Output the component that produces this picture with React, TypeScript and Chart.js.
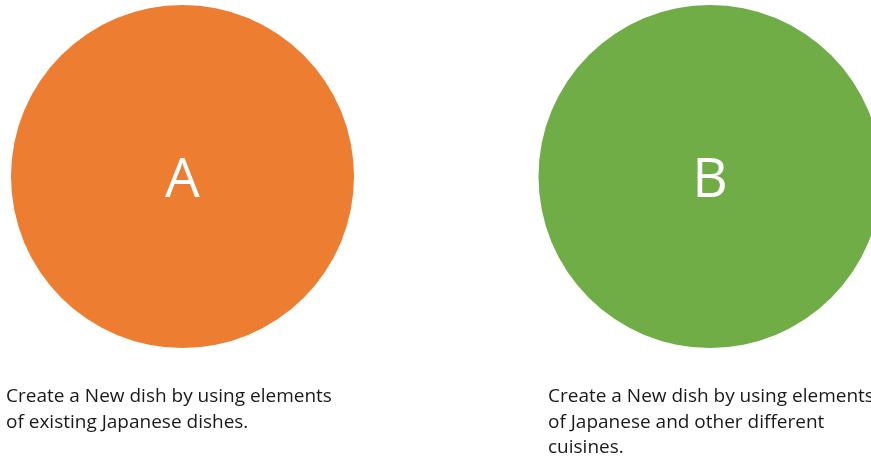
import React, { useEffect, useRef } from "react";
import { Chart, registerables } from "chart.js";

Chart.register(...registerables);

const labels = ["A", "B"];
const centerX = [182.5, 710];
const centerY = [176.5, 176.5];
const radius = [171.5, 171.5];
const colors = ["#ED7D31", "#70AD47"];
const captionX = [6, 548];
const captionY = [402, 402];
const captions = [
  ["Create a New dish by using elements", "of existing Japanese dishes."],
  ["Create a New dish by using elements", "of Japanese and other different", "cuisines."],
];

const W = 871;
const H = 459;

const textPlugin = {
  id: "circleText",
  afterDatasetsDraw(chart: any) {
    const ctx = chart.ctx;
    const xs = chart.scales.x;
    const ys = chart.scales.y;
    ctx.save();
    // letters
    ctx.fillStyle = "#ffffff";
    ctx.textAlign = "center";
    ctx.textBaseline = "alphabetic";
    ctx.font = "400 55px 'Open Sans'";
    labels.forEach((l, i) => {
      const px = xs.getPixelForValue(centerX[i]);
      const py = ys.getPixelForValue(centerY[i]);
      ctx.fillText(l, px, py + 20.5);
    });
    // captions
    ctx.textAlign = "left";
    ctx.font = "100px 'Open Sans'";
    const w100 = ctx.measureText(captions[0][0]).width;
    const size = (100 * 326) / w100;
    ctx.font = `${size.toFixed(2)}px 'Open Sans'`;
    ctx.fillStyle = "#1a1a1a";
    captions.forEach((lines, i) => {
      const px = xs.getPixelForValue(captionX[i]);
      const py = ys.getPixelForValue(captionY[i]);
      lines.forEach((t, j) => ctx.fillText(t, px, py + j * 25.5));
    });
    ctx.restore();
  },
};

export default function App() {
  const ref = useRef<HTMLCanvasElement>(null);
  useEffect(() => {
    document.body.style.margin = "0";
    document.body.style.background = "#ffffff";
    const chart = new Chart(ref.current!, {
      type: "bubble",
      data: {
        labels,
        datasets: [
          {
            label: "circles",
            data: labels.map((_, i) => ({ x: centerX[i], y: centerY[i], r: radius[i] })),
            backgroundColor: colors,
            borderWidth: 0,
            hoverRadius: 0,
            clip: false as any,
          } as any,
        ],
      },
      options: {
        animation: false,
        responsive: false,
        maintainAspectRatio: false,
        layout: { padding: 0, autoPadding: false } as any,
        events: [],
        plugins: { legend: { display: false }, tooltip: { enabled: false } },
        scales: {
          x: { type: "linear", min: 0, max: W, display: false },
          y: { type: "linear", min: 0, max: H, reverse: true, display: false },
        },
      },
      plugins: [textPlugin],
    });
    if ((document as any).fonts) {
      (document as any).fonts.load("16px 'Open Sans'").then(() => chart.draw()).catch(() => {});
    }
    return () => chart.destroy();
  }, []);
  return (
    <div style={{ width: W, height: H }}>
      <canvas ref={ref} width={W} height={H} style={{ display: "block" }} />
    </div>
  );
}
